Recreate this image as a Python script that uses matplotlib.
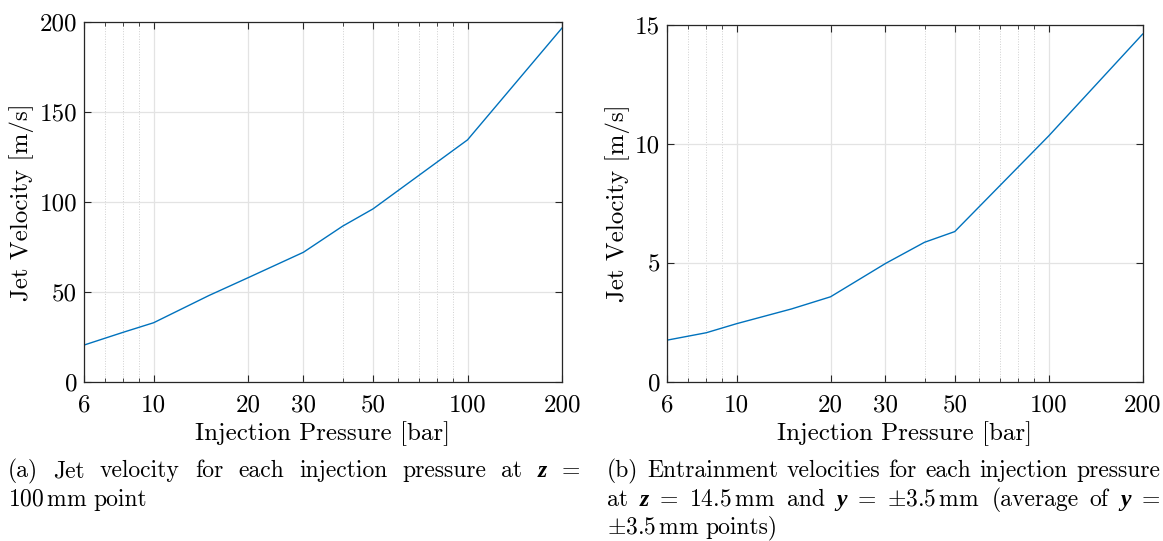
import numpy as np
import matplotlib
matplotlib.use("Agg")
import matplotlib.pyplot as plt
from matplotlib.ticker import FixedLocator, FixedFormatter, NullFormatter

plt.rcParams["font.family"] = ["cmr10", "DejaVu Serif"]
plt.rcParams["mathtext.fontset"] = "cm"
plt.rcParams["axes.formatter.use_mathtext"] = True

# injection pressures [bar]
pressure = [6, 8, 10, 15, 20, 30, 40, 50, 100, 200]
# (a) jet velocity at z = 100 mm [m/s]
jet_velocity = [20.5, 27.6, 32.9, 48.0, 57.9, 72.0, 86.5, 96.1, 134.4, 196.5]
# (b) entrainment velocity at z = 14.5 mm, y = +-3.5 mm [m/s]
entrain_velocity = [1.76, 2.07, 2.45, 3.07, 3.58, 4.98, 5.87, 6.32, 10.34, 14.62]

xticks = [6, 10, 20, 30, 50, 100, 200]
xminor = [7, 8, 9, 40, 60, 70, 80, 90]

W, H = 1163, 541
blue = "#0072BD"
edge = "#262626"
gridc = "#e3e3e3"
fs_tick = 18

fig = plt.figure(figsize=(W / 100, H / 100), dpi=100)


def style(ax, ylim, yticks):
    ax.set_xscale("log")
    ax.set_xlim(6, 200)
    ax.set_ylim(*ylim)
    ax.xaxis.set_major_locator(FixedLocator(xticks))
    ax.xaxis.set_major_formatter(FixedFormatter([str(t) for t in xticks]))
    ax.xaxis.set_minor_locator(FixedLocator(xminor))
    ax.xaxis.set_minor_formatter(NullFormatter())
    ax.set_yticks(yticks)
    ax.set_yticklabels([str(t) for t in yticks])
    ax.tick_params(which="both", direction="in", top=True, right=True,
                   color=edge, labelsize=fs_tick, labelcolor="k")
    ax.tick_params(which="major", length=5, width=0.8)
    ax.tick_params(which="minor", length=3, width=0.6)
    ax.tick_params(axis="x", pad=9)
    ax.tick_params(axis="y", pad=5)
    for s in ax.spines.values():
        s.set_color(edge)
        s.set_linewidth(0.9)
    ax.grid(which="major", color=gridc, lw=0.9)
    ax.grid(which="minor", axis="x", color="#d0d0d0", lw=0.7, ls=":")
    ax.set_axisbelow(True)
    ax.set_xlabel("Injection Pressure [bar]", fontsize=fs_tick, labelpad=3)
    ax.set_ylabel("Jet Velocity [m/s]", fontsize=fs_tick, labelpad=4)


ax1 = fig.add_axes([84 / W, 1 - 382 / H, 478 / W, 360.3 / H])
ax1.plot(pressure, jet_velocity, color=blue, lw=1)
style(ax1, (0, 200), [0, 50, 100, 150, 200])

ax2 = fig.add_axes([667.3 / W, 1 - 382 / H, 475.4 / W, 357 / H])
ax2.plot(pressure, entrain_velocity, color=blue, lw=1)
style(ax2, (0, 15), [0, 5, 10, 15])

# captions, justified like the LaTeX subcaptions
fs_cap = 17
bz = dict(family="Liberation Serif", weight="bold", style="italic")
renderer = fig.canvas.get_renderer()


def line(words, x0, x1, y, justify=True):
    texts = []
    for w in words:
        s, kw = (w, {}) if isinstance(w, str) else w
        texts.append(fig.text(0, 1 - y / H, s, fontsize=fs_cap, va="baseline", **kw))
    widths = [t.get_window_extent(renderer).width for t in texts]
    gap = (x1 - x0 - sum(widths)) / (len(texts) - 1) if justify else 6
    x = x0
    for t, w in zip(texts, widths):
        t.set_x(x / W)
        x += w + gap


line(["(a)", "Jet", "velocity", "for", "each", "injection", "pressure", "at",
      ("z", bz), "="], 8, 580, 477)
line(["100$\\,$mm", "point"], 8, 580, 506, justify=False)

line(["(b)", "Entrainment", "velocities", "for", "each", "injection", "pressure"],
     607, 1160, 477)
line(["at", ("z", bz), "=", "14.5$\\,$mm", "and", ("y", bz), "=", "$\\pm$3.5$\\,$mm",
      "(average", "of", ("y", bz), "="], 607, 1160, 506)
line(["$\\pm$3.5$\\,$mm", "points)"], 607, 1160, 533, justify=False)

fig.savefig("out.png", dpi=100)
